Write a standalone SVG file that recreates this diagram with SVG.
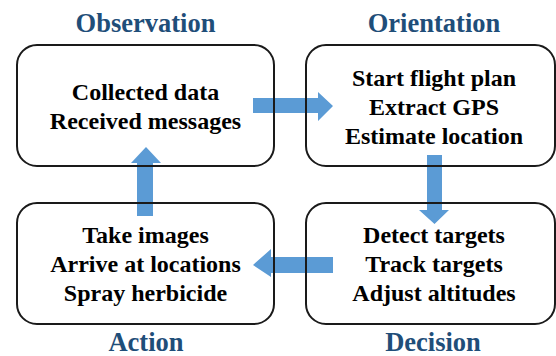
<svg xmlns="http://www.w3.org/2000/svg" width="556" height="356" viewBox="0 0 556 356">
<style>
.box{fill:none;stroke:#1a1a1a;stroke-width:2}
.arrow{fill:#5B9BD5}
.title{fill:#1F4E79}
.body{fill:#000}
</style>
<rect width="556" height="356" fill="#fff"/>
<g id="connectors">
<polygon class="arrow" points="253,98 318,98 318,92 333,106 318,121 318,113 253,113"/>
<polygon class="arrow" points="427,155 442,155 442,210 449,210 434.5,224 419,210 427,210"/>
<polygon class="arrow" points="333,257 333,273 271,273 271,277 253,265 271,249 271,257"/>
<polygon class="arrow" points="137,216 153,216 153,163 161,163 146,147 131,163 137,163"/>
</g>
<g id="observation" font-family="Liberation Serif" font-weight="bold" text-anchor="middle">
<text class="title" x="145.5" y="32" font-size="26.5">Observation</text>
<rect class="box" x="17" y="45" width="257" height="121" rx="20"/>
<text class="body" x="145.5" y="100" font-size="24">Collected data</text>
<text class="body" x="145.5" y="129" font-size="24">Received messages</text>
</g>
<g id="orientation" font-family="Liberation Serif" font-weight="bold" text-anchor="middle">
<text class="title" x="434" y="32" font-size="26.5">Orientation</text>
<rect class="box" x="306" y="45" width="249" height="121" rx="20"/>
<text class="body" x="434" y="86" font-size="24">Start flight plan</text>
<text class="body" x="434" y="115" font-size="24">Extract GPS</text>
<text class="body" x="434" y="144" font-size="24">Estimate location</text>
</g>
<g id="decision" font-family="Liberation Serif" font-weight="bold" text-anchor="middle">
<rect class="box" x="306" y="203" width="249" height="121" rx="20"/>
<text class="body" x="434" y="243" font-size="24">Detect targets</text>
<text class="body" x="434" y="272" font-size="24">Track targets</text>
<text class="body" x="434" y="301" font-size="24">Adjust altitudes</text>
<text class="title" x="433" y="351" font-size="26.5">Decision</text>
</g>
<g id="action" font-family="Liberation Serif" font-weight="bold" text-anchor="middle">
<rect class="box" x="17" y="203" width="257" height="121" rx="20"/>
<text class="body" x="145.5" y="243" font-size="24">Take images</text>
<text class="body" x="145.5" y="272" font-size="24">Arrive at locations</text>
<text class="body" x="145.5" y="301" font-size="24">Spray herbicide</text>
<text class="title" x="146" y="351" font-size="26.5">Action</text>
</g>
</svg>
